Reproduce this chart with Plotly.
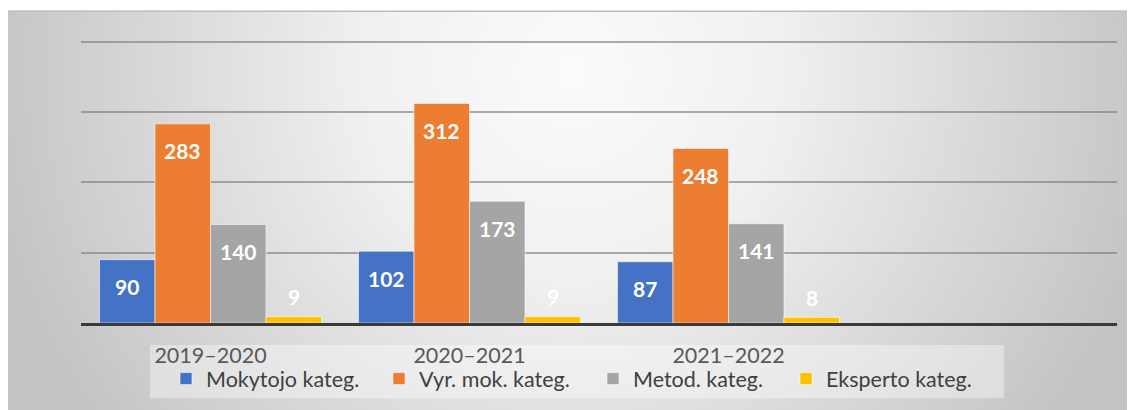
import base64
import plotly.graph_objects as go

# ---- data ----
years = ["2019–2020", "2020–2021", "2021–2022"]
series_names = ["Mokytojo kateg.", "Vyr. mok. kateg.", "Metod. kateg.", "Eksperto kateg."]
mokytojo = [90, 102, 87]
vyr_mok = [283, 312, 248]
metod = [140, 173, 141]
eksperto = [9, 9, 8]

series_values = [mokytojo, vyr_mok, metod, eksperto]
colors = ["#4472C4", "#ED7D31", "#A5A5A5", "#FFC000"]
legend_widths = [168, 169, 148, 150]

W, H = 1135, 410
OFF = 8  # page body margin
YMAX = 405
# plot area in screen px (value 0 at y=323, value 400 at y=42)
S_L, S_R, S_B = 81, 1117, 323
S_T = 42 - (323 - 42) / 400 * (YMAX - 400)
PL, PR, PT, PB = S_L - OFF, S_R - OFF, S_T - OFF, S_B - OFF
BARGAP = 0.143

def px_x(p):  # screen px -> paper fraction
    return (p - OFF - PL) / (PR - PL)

def px_y(p):
    return (PB - (p - OFF)) / (PB - PT)

x_idx = list(range(len(years)))

fig = go.Figure()
for name, vals, col, lw in zip(series_names, series_values, colors, legend_widths):
    fig.add_trace(go.Bar(
        x=x_idx, y=vals, name=name, legendwidth=lw,
        marker=dict(color=col, line=dict(color="rgba(255,255,255,0.55)", width=1)),
        hoverinfo="y",
    ))

# data labels (inside end; outside end when the bar is too short)
n = len(series_names)
bw = (1 - BARGAP) / n
px_per_unit = (PB - PT) / YMAX
for j, vals in enumerate(series_values):
    for i, v in enumerate(vals):
        shift = -27 if v * px_per_unit > 40 else 20
        fig.add_annotation(
            x=i + (j - (n - 1) / 2) * bw, y=v, xref="x", yref="y",
            text=f"<b>{v}</b>", showarrow=False, yshift=shift,
            yanchor="middle", xanchor="center",
            font=dict(family="Lato", size=21, color="white"),
        )

# gradient background (screen box from x=7, y=11 to the window edge)
IW, IH = 1135 + OFF - 7, 410 + OFF - 11
svg = f'''<svg xmlns="http://www.w3.org/2000/svg" width="{IW}" height="{IH}" viewBox="0 0 {IW} {IH}" preserveAspectRatio="none">
<defs><radialGradient id="g" gradientUnits="userSpaceOnUse" cx="565" cy="60" r="600">
<stop offset="0" stop-color="#fbfbfb"/><stop offset="0.35" stop-color="#f0f0f0"/><stop offset="1" stop-color="#c3c3c3"/>
</radialGradient></defs>
<rect x="0" y="0" width="{IW}" height="{IH}" fill="url(#g)"/>
<line x1="0" y1="0.5" x2="{IW}" y2="0.5" stroke="#bdbdbd" stroke-width="2"/>
</svg>'''
src = "data:image/svg+xml;base64," + base64.b64encode(svg.encode()).decode()
fig.add_layout_image(
    source=src, xref="paper", yref="paper",
    x=px_x(7), y=px_y(11), sizex=IW / (PR - PL), sizey=IH / (PB - PT),
    xanchor="left", yanchor="top", sizing="stretch", layer="below",
)
# legend backdrop
fig.add_shape(type="rect", xref="paper", yref="paper",
              x0=px_x(150), x1=px_x(1004), y0=px_y(398), y1=px_y(345),
              fillcolor="rgba(255,255,255,0.38)", line=dict(width=0), layer="below")

fig.update_layout(
    width=W, height=H,
    margin=dict(l=PL, r=W - PR, t=PT, b=H - PB, pad=0, autoexpand=False),
    paper_bgcolor="white", plot_bgcolor="rgba(0,0,0,0)",
    barmode="group", bargap=BARGAP, bargroupgap=0,
    showlegend=True,
    legend=dict(orientation="h", x=px_x(166), xanchor="left", y=px_y(378.5), yanchor="middle",
                bgcolor="rgba(0,0,0,0)", font=dict(family="Lato", size=21.5, color="#404040"),
                itemclick=False),
    font=dict(family="Lato"),
)
fig.update_xaxes(range=[-0.5, 3.5], tickvals=x_idx, ticktext=years,
                 showgrid=False, zeroline=False, showline=True, linecolor="#3a3a3a", linewidth=3,
                 ticks="outside", ticklen=11, tickcolor="rgba(0,0,0,0)",
                 tickfont=dict(family="Lato", size=21.5, color="#595959"))
fig.update_yaxes(range=[0, YMAX], dtick=100, showticklabels=False, zeroline=False,
                 showgrid=True, gridcolor="rgba(120,120,120,0.6)", gridwidth=1.5)

fig.write_html("out.html")
